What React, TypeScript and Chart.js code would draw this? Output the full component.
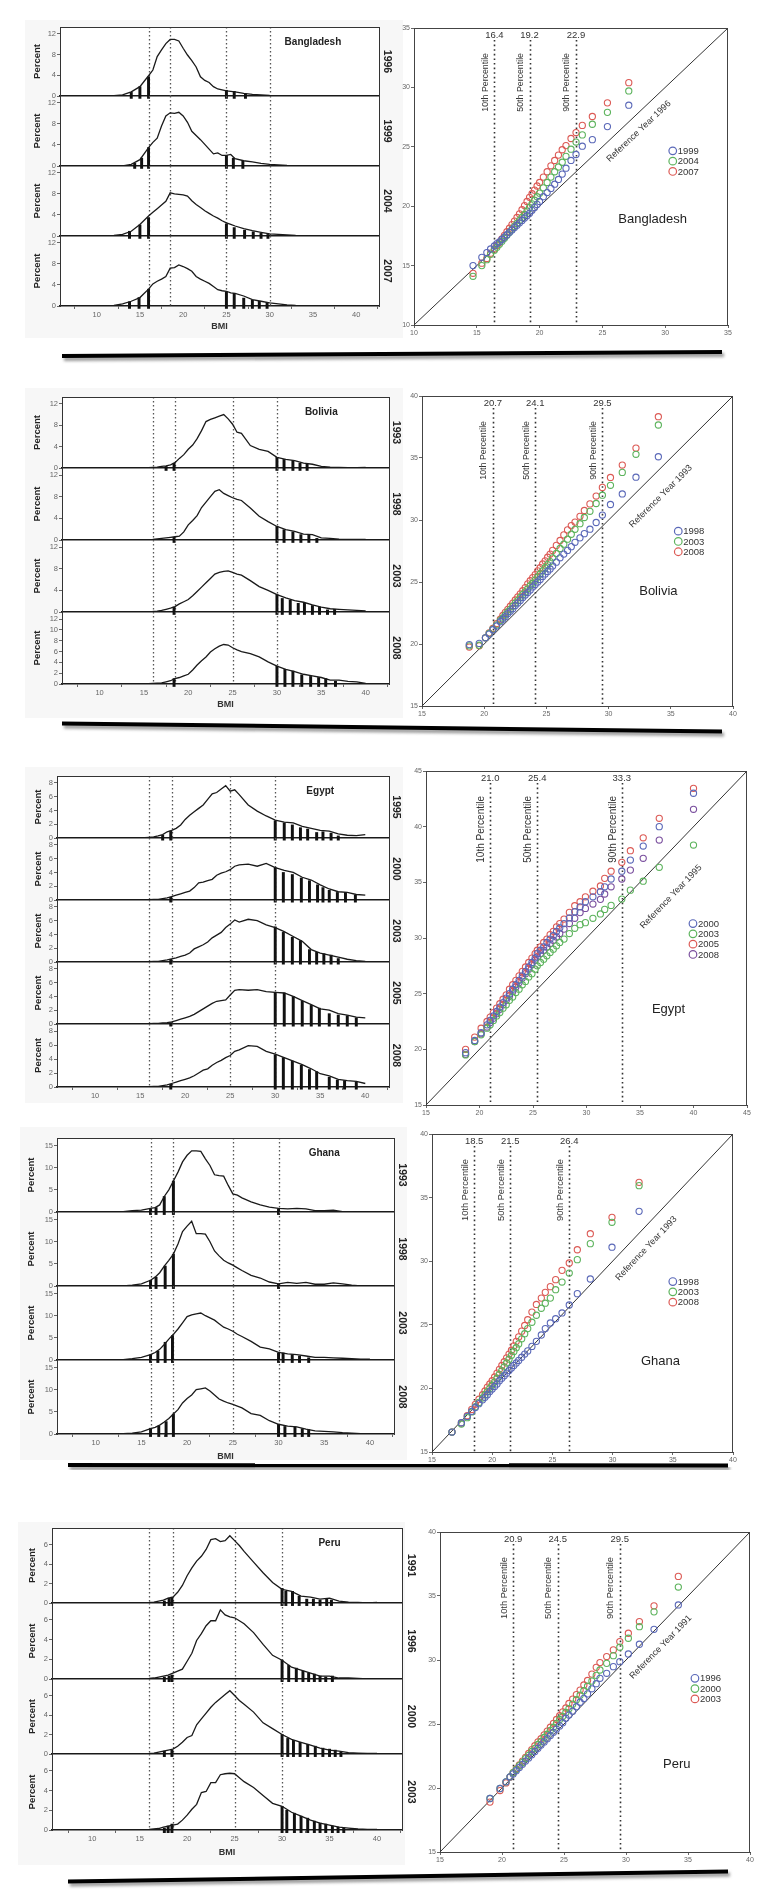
import React, { useEffect, useRef } from 'react';
import { Chart, registerables } from 'chart.js';

Chart.register(...registerables);

const FF = "'Liberation Sans', Arial, Helvetica, sans-serif";
Chart.defaults.font.family = FF;
Chart.defaults.color = '#555';

/* ---------------- shared scales ---------------- */
const BMI_GRID = [10, 11, 12, 13, 14, 15, 16, 16.5, 17, 17.5, 18, 18.5, 19, 19.5, 20, 20.5, 21, 21.5, 22, 22.5, 23, 23.5, 24, 24.5, 25, 25.5, 26, 27, 28, 29, 30, 31, 32, 33, 34, 35, 36, 37, 38, 39, 40];
const BMI_TICKS = [10, 15, 20, 25, 30, 35, 40];
const BMI_MIN = 8.4;
const BMI_MAX = 40;
const BMI_CUTOFFS = [16, 18.5, 25, 30];
const PCT_NAMES = ['10th Percentile', '50th Percentile', '90th Percentile'];
const SERIES_COLORS = ['#5a68b8', '#5cb35c', '#dc5a55', '#7a4f9e'];

/* ---------------- Bangladesh ---------------- */
const BGD_YEARS = ['1996', '1999', '2004', '2007'];
const BGD_Y_TICKS = [0, 2, 4, 6, 8, 10, 12];
const BGD_D1996 = [0, 0, 0.05, 0.2, 0.8, 1.8, 3.9, 5.0, 7.6, 8.9, 10.1, 10.9, 10.9, 10.6, 9.2, 7.9, 6.8, 5.6, 3.7, 3.0, 2.6, 1.8, 1.35, 1.2, 1.0, 0.9, 0.8, 0.5, 0.3, 0.2, 0.1, 0.05, 0.03, 0.02, 0, 0, 0, 0, 0, 0, 0];
const BGD_D1999 = [0, 0, 0, 0, 0.3, 1.2, 3.5, 4.5, 5.3, 7.6, 9.5, 10.1, 10.0, 10.2, 9.5, 8.3, 6.6, 5.8, 5.0, 4.1, 3.2, 2.3, 2.5, 2.0, 2.0, 2.2, 1.4, 1.0, 0.8, 0.5, 0.3, 0.2, 0.1, 0.05, 0, 0, 0, 0, 0, 0, 0];
const BGD_D2004 = [0, 0, 0.1, 0.3, 0.9, 2.2, 3.8, 4.5, 5.2, 5.9, 6.6, 8.2, 8.0, 7.9, 7.8, 7.6, 6.7, 6.0, 5.4, 4.8, 4.3, 3.8, 3.4, 2.9, 2.5, 2.2, 1.9, 1.4, 1.0, 0.7, 0.4, 0.3, 0.2, 0.1, 0.05, 0.03, 0, 0, 0, 0, 0];
const BGD_D2007 = [0, 0, 0.1, 0.4, 0.9, 1.6, 3.2, 4.2, 4.7, 5.1, 5.6, 7.2, 7.3, 7.8, 7.5, 7.1, 6.6, 5.6, 5.1, 4.7, 4.3, 3.7, 3.1, 2.9, 2.8, 2.5, 2.4, 1.9, 1.2, 0.9, 0.6, 0.4, 0.2, 0.1, 0.05, 0.05, 0, 0, 0, 0, 0];
const BGD_B1996_X = [14, 15, 16, 25, 25.9, 27.2];
const BGD_B1996_H = [0.7, 1.8, 3.7, 1.1, 0.9, 0.4];
const BGD_B1999_X = [14.4, 15.2, 16, 25, 25.8, 26.9];
const BGD_B1999_H = [0.5, 1.5, 3.5, 2.0, 1.5, 0.9];
const BGD_B2004_X = [13.8, 15, 16, 25, 25.9, 27.1, 28.1, 29, 29.8];
const BGD_B2004_H = [0.9, 2.1, 3.5, 2.3, 1.6, 1.1, 0.8, 0.5, 0.3];
const BGD_B2007_X = [13.8, 14.9, 16, 25, 25.9, 27, 28, 28.8, 29.7];
const BGD_B2007_H = [0.8, 1.6, 3.2, 2.7, 2.4, 1.5, 1.1, 0.9, 0.7];
const BGD_Q_YEARS = ['1999', '2004', '2007'];
const BGD_Q_REF = [14.7, 15.4, 15.8, 16.1, 16.4, 16.6, 16.8, 17.0, 17.2, 17.4, 17.6, 17.8, 18.0, 18.2, 18.4, 18.6, 18.8, 19.0, 19.2, 19.4, 19.6, 19.8, 20.0, 20.3, 20.6, 20.9, 21.2, 21.5, 21.8, 22.1, 22.5, 22.9, 23.4, 24.2, 25.4, 27.1];
const BGD_Q1999 = [15.0, 15.7, 16.1, 16.4, 16.65, 16.85, 17.0, 17.2, 17.4, 17.6, 17.8, 18.0, 18.2, 18.4, 18.6, 18.8, 19.0, 19.2, 19.4, 19.65, 19.9, 20.15, 20.4, 20.8, 21.15, 21.5, 21.85, 22.25, 22.7, 23.2, 23.85, 24.35, 25.05, 25.6, 26.7, 28.5];
const BGD_Q2004 = [14.1, 15.0, 15.5, 15.95, 16.3, 16.55, 16.8, 17.05, 17.3, 17.55, 17.8, 18.05, 18.3, 18.55, 18.8, 19.05, 19.3, 19.6, 19.9, 20.2, 20.5, 20.8, 21.1, 21.55, 22.0, 22.45, 22.9, 23.3, 23.7, 24.2, 24.8, 25.4, 26.0, 26.9, 27.9, 29.7];
const BGD_Q2007 = [14.35, 15.2, 15.6, 16.05, 16.4, 16.7, 16.95, 17.25, 17.55, 17.85, 18.15, 18.45, 18.75, 19.05, 19.35, 19.7, 20.05, 20.4, 20.75, 21.05, 21.35, 21.7, 22.0, 22.45, 22.9, 23.4, 23.85, 24.3, 24.75, 25.1, 25.7, 26.2, 26.8, 27.55, 28.7, 30.4];
const BGD_PCTS = [16.4, 19.2, 22.9];
const BGD_AXIS = [10, 15, 20, 25, 30, 35];

/* ---------------- Bolivia ---------------- */
const BOL_YEARS = ['1993', '1998', '2003', '2008'];
const BOL_Y_TICKS = [0, 2, 4, 6, 8, 10, 12];
const BOL_D1993 = [0, 0, 0, 0, 0, 0.02, 0.1, 0.15, 0.3, 0.4, 0.6, 1.0, 1.8, 2.5, 3.5, 4.3, 5.5, 7.0, 8.7, 9.1, 9.4, 9.7, 10.0, 9.2, 8.2, 6.7, 6.5, 4.2, 3.5, 3.1, 2.0, 1.6, 1.4, 0.9, 0.7, 0.3, 0.15, 0.1, 0.05, 0.05, 0.1];
const BOL_D1998 = [0, 0, 0, 0, 0, 0.05, 0.1, 0.2, 0.3, 0.4, 0.5, 0.6, 0.7, 1.5, 2.8, 3.6, 4.5, 6.0, 7.0, 8.0, 9.0, 9.3, 8.6, 8.2, 7.8, 7.5, 7.3, 5.9, 4.4, 3.4, 2.5, 1.9, 1.6, 1.1, 1.0, 0.4, 0.3, 0.15, 0.1, 0.1, 0.1];
const BOL_D2003 = [0, 0, 0, 0, 0, 0.05, 0.1, 0.15, 0.3, 0.5, 0.7, 1.0, 1.5, 1.9, 2.3, 3.0, 3.8, 4.6, 5.4, 6.2, 7.0, 7.3, 7.5, 7.6, 7.3, 7.0, 6.8, 5.8, 4.7, 4.0, 3.2, 2.6, 2.1, 1.8, 1.3, 0.9, 0.6, 0.5, 0.4, 0.3, 0.2];
const BOL_D2008 = [0, 0, 0, 0, 0, 0.02, 0.1, 0.15, 0.2, 0.4, 0.6, 1.0, 1.2, 1.5, 1.8, 2.6, 3.5, 4.3, 5.0, 5.9, 6.5, 7.0, 7.3, 7.2, 6.7, 6.3, 6.0, 5.6, 5.0, 4.1, 3.3, 2.7, 2.3, 1.8, 1.5, 1.2, 0.7, 0.7, 0.5, 0.4, 0.1];
const BOL_B1993_X = [17.5, 18.4, 30, 30.8, 31.8, 32.6, 33.4];
const BOL_B1993_H = [0.3, 0.9, 2.0, 1.6, 1.4, 0.9, 0.7];
const BOL_B1998_X = [18.4, 30, 30.8, 31.8, 32.7, 33.6, 34.5];
const BOL_B1998_H = [0.5, 2.5, 1.9, 1.5, 1.0, 1.0, 0.3];
const BOL_B2003_X = [18.4, 30, 30.6, 31.5, 32.4, 33.1, 34, 34.8, 35.7, 36.5];
const BOL_B2003_H = [0.9, 3.2, 2.5, 2.2, 1.6, 1.6, 1.2, 0.9, 0.4, 0.5];
const BOL_B2008_X = [18.4, 30, 30.9, 31.8, 32.8, 33.8, 34.7, 35.5, 36.6];
const BOL_B2008_H = [1.0, 3.3, 2.7, 2.4, 1.7, 1.4, 1.2, 1.0, 0.5];
const BOL_Q_YEARS = ['1998', '2003', '2008'];
const BOL_Q_REF = [18.8, 19.6, 20.1, 20.4, 20.7, 21.0, 21.3, 21.5, 21.7, 21.9, 22.1, 22.3, 22.5, 22.7, 22.9, 23.1, 23.3, 23.5, 23.7, 23.9, 24.1, 24.3, 24.5, 24.7, 24.9, 25.1, 25.3, 25.5, 25.8, 26.1, 26.4, 26.7, 27.0, 27.3, 27.7, 28.05, 28.5, 29.0, 29.5, 30.15, 31.1, 32.2, 34.0];
const BOL_Q1998 = [19.95, 20.05, 20.5, 20.8, 21.15, 21.45, 21.8, 22.0, 22.2, 22.45, 22.65, 22.85, 23.1, 23.3, 23.5, 23.75, 23.95, 24.15, 24.35, 24.6, 24.8, 25.0, 25.2, 25.45, 25.65, 25.85, 26.05, 26.3, 26.6, 26.95, 27.25, 27.55, 27.85, 28.2, 28.56, 28.9, 29.26, 29.8, 30.4, 31.25, 32.1, 33.45, 35.1];
const BOL_Q2003 = [19.85, 19.9, 20.5, 20.85, 21.2, 21.55, 21.9, 22.1, 22.35, 22.6, 22.8, 23.05, 23.3, 23.5, 23.75, 24.0, 24.2, 24.45, 24.7, 24.9, 25.15, 25.4, 25.65, 25.9, 26.15, 26.4, 26.65, 26.95, 27.3, 27.7, 28.05, 28.45, 28.85, 29.25, 29.7, 30.2, 30.7, 31.33, 32.0, 32.8, 33.84, 35.3, 37.66];
const BOL_Q2008 = [19.75, 19.85, 20.5, 20.9, 21.25, 21.65, 22.0, 22.3, 22.55, 22.8, 23.05, 23.3, 23.55, 23.8, 24.05, 24.3, 24.55, 24.85, 25.1, 25.35, 25.6, 25.9, 26.15, 26.45, 26.7, 27.0, 27.25, 27.55, 27.95, 28.35, 28.8, 29.2, 29.55, 29.83, 30.3, 30.77, 31.3, 31.93, 32.63, 33.43, 34.43, 35.8, 38.33];
const BOL_PCTS = [20.7, 24.1, 29.5];
const BOL_AXIS = [15, 20, 25, 30, 35, 40];

/* ---------------- Egypt ---------------- */
const EGY_YEARS = ['1995', '2000', '2003', '2005', '2008'];
const EGY_Y_TICKS = [0, 2, 4, 6, 8];
const EGY_D1995 = [0, 0, 0, 0, 0, 0.02, 0.1, 0.15, 0.3, 0.5, 0.9, 1.1, 1.4, 1.9, 2.7, 3.3, 3.8, 4.3, 4.8, 5.6, 6.4, 6.6, 7.1, 7.6, 6.8, 7.0, 6.3, 4.8, 3.9, 3.2, 2.6, 2.3, 2.2, 1.7, 1.4, 1.1, 1.0, 0.6, 0.4, 0.35, 0.5];
const EGY_D2000 = [0, 0, 0, 0, 0, 0.02, 0.05, 0.07, 0.1, 0.2, 0.3, 0.5, 0.7, 0.9, 1.1, 1.3, 1.8, 2.5, 2.6, 2.8, 3.0, 3.6, 3.9, 4.1, 4.4, 4.9, 5.1, 5.2, 4.9, 5.3, 4.7, 4.3, 4.0, 3.3, 2.9, 2.2, 1.6, 1.2, 1.1, 0.8, 0.7];
const EGY_D2003 = [0, 0, 0, 0, 0, 0.02, 0.05, 0.07, 0.1, 0.2, 0.3, 0.45, 0.6, 0.8, 1.0, 1.3, 1.9, 2.2, 2.5, 2.9, 3.5, 3.9, 4.3, 5.0, 5.5, 6.1, 5.8, 6.2, 6.0, 5.4, 5.0, 4.4, 3.7, 3.0, 1.8, 1.3, 1.0, 0.7, 0.4, 0.2, 0.1];
const EGY_D2005 = [0, 0, 0, 0, 0, 0.01, 0.05, 0.07, 0.1, 0.15, 0.2, 0.3, 0.5, 0.7, 0.9, 1.1, 1.4, 1.8, 2.2, 2.6, 3.0, 3.3, 3.4, 3.5, 4.2, 4.9, 5.0, 4.9, 5.0, 4.7, 4.6, 4.5, 4.0, 3.4, 2.8, 2.2, 2.0, 1.5, 1.3, 1.0, 0.9];
const EGY_D2008 = [0, 0, 0, 0, 0, 0.01, 0.05, 0.07, 0.1, 0.2, 0.3, 0.5, 0.7, 0.9, 1.1, 1.3, 1.6, 2.0, 2.4, 2.6, 3.1, 3.5, 3.8, 4.2, 4.5, 5.1, 5.3, 5.9, 5.8, 5.1, 4.7, 4.2, 3.7, 3.2, 2.6, 1.9, 1.6, 1.1, 0.9, 0.8, 0.5];
const EGY_B1995_X = [17.5, 18.4, 30, 31, 31.9, 32.8, 33.6, 34.6, 35.3, 36.2, 37];
const EGY_B1995_H = [0.4, 1.0, 2.5, 2.2, 1.9, 1.5, 1.3, 0.8, 0.9, 0.7, 0.3];
const EGY_B2000_X = [18.4, 30, 30.9, 31.9, 32.9, 33.8, 34.7, 35.3, 36, 36.9, 37.8, 38.9];
const EGY_B2000_H = [0.4, 4.7, 4.0, 3.7, 3.2, 2.8, 2.2, 1.8, 1.4, 1.1, 1.1, 0.7];
const EGY_B2003_X = [18.4, 30, 30.9, 31.9, 32.8, 33.8, 34.6, 35.4, 36.2, 37];
const EGY_B2003_H = [0.4, 5.1, 4.3, 3.6, 3.1, 1.8, 1.4, 1.2, 1.0, 0.5];
const EGY_B2005_X = [18.4, 30, 31, 32, 33, 34, 34.9, 36, 37, 38, 39];
const EGY_B2005_H = [0.2, 4.6, 4.5, 4.0, 3.3, 2.7, 2.3, 1.5, 1.3, 1.2, 0.9];
const EGY_B2008_X = [18.4, 30, 30.9, 31.9, 32.9, 33.8, 34.6, 36, 36.9, 37.7, 39];
const EGY_B2008_H = [0.4, 4.6, 4.2, 3.7, 3.1, 2.5, 2.2, 1.4, 1.0, 0.9, 0.7];
const EGY_Q_YEARS = ['2000', '2003', '2005', '2008'];
const EGY_Q_REF = [18.7, 19.55, 20.15, 20.7, 21.0, 21.3, 21.6, 21.9, 22.2, 22.5, 22.8, 23.1, 23.4, 23.7, 24.0, 24.3, 24.6, 24.9, 25.2, 25.4, 25.7, 26.0, 26.3, 26.6, 26.9, 27.2, 27.5, 27.9, 28.4, 28.9, 29.4, 29.9, 30.6, 31.3, 31.7, 32.3, 33.3, 34.1, 35.3, 36.8, 40.0];
const EGY_Q2000 = [19.7, 20.8, 21.5, 22.2, 22.6, 23.0, 23.4, 23.8, 24.2, 24.6, 25.0, 25.4, 25.8, 26.2, 26.6, 27.0, 27.4, 27.8, 28.2, 28.6, 28.9, 29.2, 29.6, 29.9, 30.2, 30.6, 30.9, 31.3, 31.8, 32.36, 32.8, 33.26, 33.7, 34.16, 34.6, 35.3, 36.0, 37.0, 38.26, 40.0, 43.0];
const EGY_Q2003 = [19.5, 20.7, 21.3, 21.9, 22.2, 22.6, 23.0, 23.3, 23.7, 24.0, 24.4, 24.7, 25.1, 25.4, 25.8, 26.1, 26.5, 26.8, 27.2, 27.5, 27.8, 28.1, 28.4, 28.7, 29.0, 29.3, 29.6, 29.9, 30.4, 30.87, 31.2, 31.38, 31.77, 32.16, 32.57, 32.93, 33.5, 34.3, 35.1, 36.35, 38.35];
const EGY_Q2005 = [20.0, 21.1, 21.9, 22.5, 22.9, 23.3, 23.7, 24.1, 24.5, 24.9, 25.4, 25.8, 26.2, 26.6, 27.0, 27.4, 27.8, 28.2, 28.6, 28.9, 29.2, 29.6, 29.9, 30.3, 30.6, 31.0, 31.3, 31.7, 32.3, 32.9, 33.26, 33.7, 34.2, 34.67, 35.36, 36.0, 36.8, 37.84, 39.0, 40.75, 43.44];
const EGY_Q2008 = [19.55, 20.7, 21.4, 22.0, 22.4, 22.8, 23.2, 23.6, 24.0, 24.4, 24.8, 25.2, 25.6, 26.0, 26.4, 26.8, 27.2, 27.6, 28.0, 28.3, 28.6, 28.9, 29.2, 29.5, 29.8, 30.1, 30.4, 30.8, 31.3, 31.77, 32.28, 32.66, 33.05, 33.47, 33.95, 34.6, 35.3, 36.1, 37.16, 38.8, 41.56];
const EGY_PCTS = [21.0, 25.4, 33.3];
const EGY_AXIS = [15, 20, 25, 30, 35, 40, 45];

/* ---------------- Ghana ---------------- */
const GHA_YEARS = ['1993', '1998', '2003', '2008'];
const GHA_Y_TICKS = [0, 5, 10, 15];
const GHA_D1993 = [0, 0, 0.05, 0.1, 0.3, 0.4, 0.8, 1.0, 1.6, 3.5, 5.0, 7.0, 9.0, 11.3, 12.8, 13.8, 13.8, 13.7, 12.0, 10.5, 8.4, 8.2, 8.1, 6.0, 4.1, 3.8, 3.2, 2.3, 1.6, 1.1, 0.8, 0.7, 0.8, 0.7, 0.3, 0.3, 0.4, 0.1, 0.1, 0.05, 0.05];
const GHA_D1998 = [0, 0, 0, 0.05, 0.2, 0.5, 1.3, 2.0, 3.0, 4.5, 5.8, 7.2, 9.5, 12.3, 13.5, 14.6, 11.8, 11.8, 11.7, 10.0, 7.9, 6.8, 5.8, 5.2, 4.7, 4.1, 3.5, 2.4, 1.8, 0.9, 0.5, 0.8, 0.6, 0.8, 0.4, 0.4, 0.7, 0.5, 0.2, 0.05, 0];
const GHA_D2003 = [0, 0, 0, 0.1, 0.3, 0.6, 1.2, 1.7, 2.4, 3.5, 4.7, 5.8, 7.0, 8.4, 9.8, 10.2, 10.4, 10.6, 10.0, 9.5, 9.0, 8.2, 7.4, 7.0, 6.5, 5.8, 5.3, 4.2, 2.9, 2.5, 1.7, 1.4, 1.2, 0.9, 0.6, 0.6, 0.5, 0.4, 0.3, 0.2, 0.2];
const GHA_D2008 = [0, 0, 0.02, 0.1, 0.2, 0.5, 1.2, 1.5, 2.0, 2.7, 3.5, 4.5, 5.5, 7.0, 8.0, 8.8, 10.0, 10.2, 10.4, 9.7, 8.8, 7.9, 7.4, 7.0, 6.7, 6.3, 5.9, 4.6, 4.2, 3.0, 2.2, 1.8, 1.6, 1.1, 0.7, 0.6, 0.5, 0.3, 0.2, 0.1, 0.1];
const GHA_B1993_X = [16, 16.6, 17.5, 18.5, 30];
const GHA_B1993_H = [0.7, 1.0, 3.5, 7.0, 0.7];
const GHA_B1998_X = [16, 16.6, 17.6, 18.5, 30];
const GHA_B1998_H = [1.3, 2.0, 4.5, 7.2, 0.5];
const GHA_B2003_X = [16, 16.8, 17.6, 18.4, 30, 30.5, 31.5, 32.3, 33.3];
const GHA_B2003_H = [1.2, 2.0, 4.0, 5.5, 1.6, 1.6, 1.2, 0.9, 0.5];
const GHA_B2008_X = [16, 16.9, 17.7, 18.5, 30, 30.7, 31.8, 32.6, 33.3];
const GHA_B2008_H = [1.3, 1.8, 2.8, 4.5, 2.2, 1.7, 1.6, 1.2, 1.0];
const GHA_Q_YEARS = ['1998', '2003', '2008'];
const GHA_Q_REF = [16.66, 17.44, 17.93, 18.3, 18.6, 18.9, 19.2, 19.4, 19.6, 19.8, 20.0, 20.2, 20.4, 20.6, 20.8, 21.0, 21.2, 21.4, 21.6, 21.8, 22.0, 22.2, 22.45, 22.7, 22.95, 23.3, 23.67, 24.08, 24.41, 24.83, 25.27, 25.8, 26.4, 27.07, 28.15, 29.95, 32.2];
const GHA_Q1998 = [16.57, 17.3, 17.8, 18.2, 18.5, 18.8, 19.1, 19.3, 19.5, 19.75, 19.95, 20.15, 20.35, 20.6, 20.8, 21.0, 21.2, 21.4, 21.6, 21.8, 22.0, 22.2, 22.45, 22.7, 22.95, 23.3, 23.7, 24.2, 24.7, 25.14, 25.48, 25.93, 26.56, 27.45, 28.6, 31.1, 33.92];
const GHA_Q2003 = [16.57, 17.2, 17.7, 18.15, 18.55, 18.9, 19.25, 19.5, 19.75, 20.0, 20.25, 20.5, 20.8, 21.1, 21.4, 21.7, 22.0, 22.3, 22.6, 22.9, 23.2, 23.5, 23.9, 24.3, 24.7, 25.2, 25.75, 26.3, 26.7, 27.1, 27.76, 28.36, 29.07, 30.12, 31.38, 33.06, 35.94];
const GHA_Q2008 = [16.57, 17.28, 17.85, 18.35, 18.75, 19.15, 19.5, 19.8, 20.1, 20.35, 20.6, 20.9, 21.2, 21.5, 21.8, 22.1, 22.4, 22.7, 23.0, 23.35, 23.7, 24.05, 24.5, 24.95, 25.4, 26.0, 26.6, 27.1, 27.55, 28.0, 28.55, 29.28, 29.86, 30.9, 32.16, 33.45, 36.2];
const GHA_PCTS = [18.5, 21.5, 26.4];
const GHA_AXIS = [15, 20, 25, 30, 35, 40];

/* ---------------- Peru ---------------- */
const PER_YEARS = ['1991', '1996', '2000', '2003'];
const PER_Y_TICKS = [0, 2, 4, 6];
const PER_D1991 = [0, 0, 0, 0, 0, 0.02, 0.05, 0.1, 0.2, 0.3, 0.5, 0.6, 1.1, 1.8, 2.8, 3.6, 4.3, 4.8, 5.5, 6.5, 6.6, 6.3, 6.4, 6.9, 6.4, 5.9, 5.3, 4.2, 3.1, 2.1, 1.4, 1.2, 0.7, 0.6, 0.4, 0.5, 0.2, 0.1, 0.05, 0.02, 0.05];
const PER_D1996 = [0, 0, 0, 0, 0, 0.02, 0.05, 0.1, 0.2, 0.3, 0.4, 0.6, 0.8, 1.0, 1.8, 2.6, 3.9, 4.6, 5.4, 5.9, 5.9, 7.0, 6.5, 6.3, 6.2, 5.9, 5.6, 4.7, 3.5, 2.4, 1.9, 1.2, 0.9, 0.6, 0.3, 0.3, 0.1, 0.1, 0.05, 0.02, 0];
const PER_D2000 = [0, 0, 0, 0, 0, 0.02, 0.05, 0.1, 0.2, 0.3, 0.4, 0.5, 0.8, 1.2, 1.7, 1.9, 3.0, 3.6, 4.2, 4.8, 5.3, 5.7, 6.1, 6.5, 6.0, 5.5, 5.1, 4.3, 3.2, 2.6, 2.0, 1.5, 1.2, 0.9, 0.6, 0.4, 0.3, 0.15, 0.1, 0.05, 0.05];
const PER_D2003 = [0, 0, 0, 0, 0, 0.02, 0.05, 0.1, 0.15, 0.3, 0.4, 0.5, 0.6, 1.0, 1.5, 2.1, 2.6, 3.8, 3.9, 4.8, 4.8, 5.6, 5.7, 5.75, 5.7, 5.3, 4.9, 4.3, 3.5, 2.7, 2.4, 1.8, 1.4, 1.0, 0.7, 0.5, 0.3, 0.2, 0.1, 0.05, 0.05];
const PER_B1991_X = [17.6, 18.1, 18.4, 30, 30.4, 31.1, 31.8, 32.6, 33.3, 34, 34.7, 35.2];
const PER_B1991_H = [0.2, 0.5, 0.6, 1.5, 1.2, 1.2, 0.7, 0.4, 0.4, 0.3, 0.4, 0.3];
const PER_B1996_X = [17.6, 18.1, 18.4, 30, 30.7, 31.5, 32.2, 32.8, 33.4, 34, 34.6, 35.3];
const PER_B1996_H = [0.2, 0.3, 0.4, 1.9, 1.4, 1.1, 0.8, 0.6, 0.5, 0.3, 0.2, 0.3];
const PER_B2000_X = [17.6, 18.4, 30, 30.6, 31.2, 31.9, 32.7, 33.5, 34.3, 35, 35.6, 36.2];
const PER_B2000_H = [0.3, 0.4, 2.0, 1.6, 1.4, 1.2, 1.0, 0.8, 0.6, 0.5, 0.4, 0.2];
const PER_B2003_X = [17.6, 18, 18.4, 30, 30.5, 31.3, 32, 32.7, 33.4, 34, 34.6, 35.3, 35.9, 36.5];
const PER_B2003_H = [0.2, 0.4, 0.6, 2.4, 2.0, 1.7, 1.4, 1.2, 0.9, 0.7, 0.6, 0.4, 0.3, 0.2];
const PER_Q_YEARS = ['1996', '2000', '2003'];
const PER_Q_REF = [19.03, 19.84, 20.32, 20.65, 20.9, 21.15, 21.4, 21.65, 21.9, 22.15, 22.4, 22.65, 22.9, 23.15, 23.4, 23.65, 23.9, 24.15, 24.4, 24.65, 24.9, 25.15, 25.4, 25.7, 26.0, 26.3, 26.6, 26.9, 27.25, 27.6, 27.9, 28.44, 28.98, 29.5, 30.19, 31.08, 32.26, 34.22];
const PER_Q1996 = [19.18, 19.96, 20.48, 20.87, 21.1, 21.35, 21.6, 21.85, 22.1, 22.35, 22.6, 22.85, 23.1, 23.35, 23.6, 23.85, 24.1, 24.35, 24.6, 24.85, 25.1, 25.45, 25.7, 26.0, 26.35, 26.7, 27.0, 27.35, 27.75, 28.15, 28.57, 28.96, 29.48, 29.87, 30.47, 31.23, 32.4, 34.3];
const PER_Q2000 = [19.18, 19.96, 20.48, 20.87, 21.2, 21.45, 21.75, 22.0, 22.3, 22.55, 22.85, 23.1, 23.4, 23.65, 23.95, 24.2, 24.5, 24.75, 25.05, 25.35, 25.6, 25.9, 26.2, 26.55, 26.9, 27.25, 27.6, 27.95, 28.35, 28.8, 29.22, 29.74, 30.34, 31.0, 31.7, 32.6, 33.76, 35.7];
const PER_Q2003 = [18.9, 19.8, 20.4, 20.85, 21.2, 21.5, 21.8, 22.1, 22.4, 22.7, 23.0, 23.3, 23.6, 23.85, 24.15, 24.45, 24.75, 25.05, 25.35, 25.65, 25.95, 26.25, 26.6, 26.95, 27.3, 27.65, 28.05, 28.4, 28.9, 29.43, 29.8, 30.27, 30.79, 31.44, 32.09, 33.0, 34.23, 36.53];
const PER_PCTS = [20.9, 24.5, 29.5];
const PER_AXIS = [15, 20, 25, 30, 35, 40];

/* ---------------- page layout (pixels) ---------------- */
const BGD_LAYOUT = { plotL: 60, plotR: 379, bounds: [27, 96, 166, 236, 306], percentX: 38, yearX: 387, bmiY: 327, bg: [25, 20, 403, 338], scatter: [414, 28, 728, 325] };
const BOL_LAYOUT = { plotL: 62, plotR: 389, bounds: [397, 468, 540, 612, 684], percentX: 38, yearX: 396, bmiY: 705, bg: [25, 388, 403, 718], scatter: [422, 396, 733, 706] };
const EGY_LAYOUT = { plotL: 57, plotR: 389, bounds: [776, 838, 900, 962, 1024, 1087], percentX: 39, yearX: 396, bmiY: null, bg: [25, 767, 403, 1103], scatter: [426, 771, 747, 1105] };
const GHA_LAYOUT = { plotL: 57, plotR: 394, bounds: [1138, 1212, 1286, 1360, 1434], percentX: 32, yearX: 402, bmiY: 1457, bg: [20, 1127, 407, 1460], scatter: [432, 1134, 733, 1452] };
const PER_LAYOUT = { plotL: 52, plotR: 402, bounds: [1528, 1603, 1679, 1754, 1830], percentX: 33, yearX: 411, bmiY: 1853, bg: [18, 1522, 405, 1865], scatter: [440, 1532, 750, 1852] };
const RULES = [
  [62, 356, 722, 352],
  [62, 723.5, 722, 731.5],
  [68, 1465, 728, 1465.5],
  [68, 1881.5, 728, 1871.5],
];

const COUNTRIES: any[] = [
  {
    name: 'Bangladesh', years: BGD_YEARS, ymax: 13.3, yTicks: BGD_Y_TICKS, layout: BGD_LAYOUT,
    dens: [BGD_D1996, BGD_D1999, BGD_D2004, BGD_D2007],
    barX: [BGD_B1996_X, BGD_B1999_X, BGD_B2004_X, BGD_B2007_X],
    barH: [BGD_B1996_H, BGD_B1999_H, BGD_B2004_H, BGD_B2007_H],
    q: { years: BGD_Q_YEARS, ref: BGD_Q_REF, vals: [BGD_Q1999, BGD_Q2004, BGD_Q2007], pcts: BGD_PCTS, axis: BGD_AXIS, refYear: '1996', pctFont: 8.8, refPos: [27.9, 26.3], legendPos: [30.6, 24.66], namePos: [29.0, 18.85] },
  },
  {
    name: 'Bolivia', years: BOL_YEARS, ymax: 13.3, yTicks: BOL_Y_TICKS, layout: BOL_LAYOUT,
    dens: [BOL_D1993, BOL_D1998, BOL_D2003, BOL_D2008],
    barX: [BOL_B1993_X, BOL_B1998_X, BOL_B2003_X, BOL_B2008_X],
    barH: [BOL_B1993_H, BOL_B1998_H, BOL_B2003_H, BOL_B2008_H],
    q: { years: BOL_Q_YEARS, ref: BOL_Q_REF, vals: [BOL_Q1998, BOL_Q2003, BOL_Q2008], pcts: BOL_PCTS, axis: BOL_AXIS, refYear: '1993', pctFont: 8.8, refPos: [34.2, 31.9], legendPos: [35.6, 29.1], namePos: [34.0, 24.2] },
  },
  {
    name: 'Egypt', years: EGY_YEARS, ymax: 9.0, yTicks: EGY_Y_TICKS, layout: EGY_LAYOUT,
    dens: [EGY_D1995, EGY_D2000, EGY_D2003, EGY_D2005, EGY_D2008],
    barX: [EGY_B1995_X, EGY_B2000_X, EGY_B2003_X, EGY_B2005_X, EGY_B2008_X],
    barH: [EGY_B1995_H, EGY_B2000_H, EGY_B2003_H, EGY_B2005_H, EGY_B2008_H],
    q: { years: EGY_Q_YEARS, ref: EGY_Q_REF, vals: [EGY_Q2000, EGY_Q2003, EGY_Q2005, EGY_Q2008], pcts: EGY_PCTS, axis: EGY_AXIS, refYear: '1995', pctFont: 10, refPos: [37.9, 33.7], legendPos: [39.95, 31.3], namePos: [37.67, 23.6] },
  },
  {
    name: 'Ghana', years: GHA_YEARS, ymax: 16.7, yTicks: GHA_Y_TICKS, layout: GHA_LAYOUT,
    dens: [GHA_D1993, GHA_D1998, GHA_D2003, GHA_D2008],
    barX: [GHA_B1993_X, GHA_B1998_X, GHA_B2003_X, GHA_B2008_X],
    barH: [GHA_B1993_H, GHA_B1998_H, GHA_B2003_H, GHA_B2008_H],
    q: { years: GHA_Q_YEARS, ref: GHA_Q_REF, vals: [GHA_Q1998, GHA_Q2003, GHA_Q2008], pcts: GHA_PCTS, axis: GHA_AXIS, refYear: '1993', pctFont: 9.3, refPos: [32.8, 31.0], legendPos: [35.0, 28.4], namePos: [33.97, 22.1] },
  },
  {
    name: 'Peru', years: PER_YEARS, ymax: 7.7, yTicks: PER_Y_TICKS, layout: PER_LAYOUT,
    dens: [PER_D1991, PER_D1996, PER_D2000, PER_D2003],
    barX: [PER_B1991_X, PER_B1996_X, PER_B2000_X, PER_B2003_X],
    barH: [PER_B1991_H, PER_B1996_H, PER_B2000_H, PER_B2003_H],
    q: { years: PER_Q_YEARS, ref: PER_Q_REF, vals: [PER_Q1996, PER_Q2000, PER_Q2003], pcts: PER_PCTS, axis: PER_AXIS, refYear: '1991', pctFont: 9.3, refPos: [32.8, 31.0], legendPos: [35.56, 28.57], namePos: [34.1, 21.84] },
  },
];

/* ---------------- chart builders ---------------- */
type Margin = { l: number; t: number; r: number; b: number };

function densityDeco(c: any, isTop: boolean) {
  return {
    id: 'densityDeco',
    beforeDatasetsDraw(chart: any) {
      const { ctx, chartArea: a, scales } = chart;
      ctx.save();
      ctx.strokeStyle = '#555';
      ctx.lineWidth = 1.3;
      ctx.setLineDash([1.5, 2.5]);
      BMI_CUTOFFS.forEach((v) => {
        const px = Math.round(scales.x.getPixelForValue(v)) + 0.5;
        ctx.beginPath();
        ctx.moveTo(px, a.top);
        ctx.lineTo(px, a.bottom);
        ctx.stroke();
      });
      ctx.restore();
    },
    afterDraw(chart: any) {
      if (!isTop) return;
      const { ctx, chartArea: a, scales } = chart;
      ctx.save();
      ctx.strokeStyle = '#333';
      ctx.lineWidth = 1;
      ctx.beginPath();
      ctx.moveTo(a.left, a.top + 0.5);
      ctx.lineTo(a.right, a.top + 0.5);
      ctx.stroke();
      ctx.fillStyle = '#222';
      ctx.font = `bold 10px ${FF}`;
      ctx.textAlign = 'center';
      ctx.textBaseline = 'middle';
      ctx.fillText(c.name, scales.x.getPixelForValue(35), a.top + 15);
      ctx.restore();
    },
  };
}

function densityConfig(c: any, i: number, m: Margin, bmiTitle: boolean) {
  const n = c.years.length;
  const isTop = i === 0;
  const isBottom = i === n - 1;
  const vals = c.dens[i];
  const dip = -c.ymax * 0.035;
  return {
    type: 'line',
    data: {
      datasets: [
        {
          type: 'line', xAxisID: 'x', yAxisID: 'y',
          data: BMI_GRID.map((x, k) => ({ x, y: vals[k] })),
          borderColor: '#1a1a1a', borderWidth: 1.3, pointRadius: 0, tension: 0, fill: false, order: 1,
        },
        {
          type: 'bar', xAxisID: 'x', yAxisID: 'y',
          data: c.barX[i].map((x: number, k: number) => ({ x, y: [dip, c.barH[i][k]] })),
          backgroundColor: '#111', borderWidth: 0, barThickness: 2.3, clip: false, order: 2,
        },
      ],
    },
    options: {
      responsive: false, animation: false, devicePixelRatio: 1, events: [],
      layout: { padding: { top: m.t, right: 0, bottom: 0, left: 0 } },
      plugins: { legend: { display: false }, tooltip: { enabled: false } },
      scales: {
        x: {
          type: 'linear', min: BMI_MIN, max: BMI_MAX,
          afterBuildTicks: (s: any) => { s.ticks = BMI_TICKS.map((v) => ({ value: v })); },
          afterFit: (s: any) => { s.height = m.b; s.paddingLeft = 0; s.paddingRight = 0; },
          ticks: { display: isBottom, font: { size: 7.5, family: FF }, color: '#666', padding: 1, maxRotation: 0, autoSkip: false },
          grid: { display: true, drawOnChartArea: false, drawTicks: isBottom, tickLength: 3, color: '#666' },
          border: { display: true, color: '#1a1a1a', width: 1.6 },
          title: { display: isBottom && bmiTitle, text: 'BMI', font: { size: 9, weight: 'bold', family: FF }, color: '#333', padding: 0 },
        },
        y: {
          type: 'linear', position: 'left', min: 0, max: c.ymax,
          afterBuildTicks: (s: any) => { s.ticks = c.yTicks.map((v: number) => ({ value: v })); },
          afterFit: (s: any) => { s.width = m.l; s.paddingTop = 0; s.paddingBottom = 0; },
          ticks: { font: { size: 7.5, family: FF }, color: '#666', padding: 1 },
          grid: { display: true, drawOnChartArea: false, tickLength: 3, color: '#666' },
          border: { display: true, color: '#333', width: 1 },
          title: { display: true, text: 'Percent', font: { size: 9.5, weight: 'bold', family: FF }, color: '#222', padding: 0 },
        },
        yr: {
          type: 'linear', position: 'right', display: true,
          afterFit: (s: any) => { s.width = m.r; s.paddingTop = 0; s.paddingBottom = 0; },
          ticks: { display: false },
          grid: { display: false, drawTicks: false },
          border: { display: true, color: '#333', width: 1 },
          title: { display: true, text: c.years[i], font: { size: 10.5, weight: 'bold', family: FF }, color: '#222', padding: 0 },
        },
      },
    },
    plugins: [densityDeco(c, isTop)],
  };
}

function scatterDeco(q: any, name: string) {
  return {
    id: 'scatterDeco',
    beforeDatasetsDraw(chart: any) {
      const { ctx, chartArea: a, scales } = chart;
      ctx.save();
      ctx.strokeStyle = '#333';
      ctx.lineWidth = 1.6;
      ctx.setLineDash([1.6, 3]);
      q.pcts.forEach((v: number) => {
        const px = Math.round(scales.x.getPixelForValue(v)) + 0.5;
        ctx.beginPath();
        ctx.moveTo(px, a.top + 12);
        ctx.lineTo(px, a.bottom);
        ctx.stroke();
      });
      ctx.restore();
    },
    afterDraw(chart: any) {
      const { ctx, chartArea: a, scales } = chart;
      const x = scales.x, y = scales.y;
      ctx.save();
      ctx.strokeStyle = '#444';
      ctx.lineWidth = 1;
      ctx.beginPath();
      ctx.moveTo(a.left, a.top + 0.5);
      ctx.lineTo(a.right - 0.5, a.top + 0.5);
      ctx.lineTo(a.right - 0.5, a.bottom);
      ctx.stroke();

      ctx.fillStyle = '#333';
      ctx.textBaseline = 'middle';
      q.pcts.forEach((v: number, k: number) => {
        const px = x.getPixelForValue(v);
        ctx.font = `9.5px ${FF}`;
        ctx.textAlign = 'center';
        ctx.fillText(v.toFixed(1), px, a.top + 7);
        ctx.save();
        ctx.translate(px - 9, a.top + 25);
        ctx.rotate(-Math.PI / 2);
        ctx.font = `${q.pctFont}px ${FF}`;
        ctx.textAlign = 'right';
        ctx.fillText(PCT_NAMES[k], 0, 0);
        ctx.restore();
      });

      // reference-year label along the diagonal
      ctx.save();
      ctx.translate(x.getPixelForValue(q.refPos[0]), y.getPixelForValue(q.refPos[1]));
      ctx.rotate(-Math.atan2(a.bottom - a.top, a.right - a.left));
      ctx.font = `9px ${FF}`;
      ctx.textAlign = 'center';
      ctx.fillStyle = '#333';
      ctx.fillText('Reference Year ' + q.refYear, 0, 0);
      ctx.restore();

      // legend
      const lx = x.getPixelForValue(q.legendPos[0]);
      const ly = y.getPixelForValue(q.legendPos[1]);
      q.years.forEach((yr: string, k: number) => {
        const cy = ly + k * 10.3;
        ctx.strokeStyle = SERIES_COLORS[k];
        ctx.lineWidth = 1.2;
        ctx.beginPath();
        ctx.arc(lx, cy, 3.8, 0, Math.PI * 2);
        ctx.stroke();
        ctx.fillStyle = '#333';
        ctx.font = `9.5px ${FF}`;
        ctx.textAlign = 'left';
        ctx.fillText(yr, lx + 5, cy + 0.5);
      });

      // country name
      ctx.fillStyle = '#222';
      ctx.font = `13px ${FF}`;
      ctx.textAlign = 'center';
      ctx.fillText(name, x.getPixelForValue(q.namePos[0]), y.getPixelForValue(q.namePos[1]));
      ctx.restore();
    },
  };
}

function scatterConfig(c: any, m: Margin) {
  const q = c.q;
  const lo = q.axis[0];
  const hi = q.axis[q.axis.length - 1];
  const series = q.years.map((yr: string, k: number) => ({
    type: 'scatter', label: yr,
    data: q.ref.map((xv: number, j: number) => ({ x: xv, y: q.vals[k][j] })),
    pointRadius: 3.1, pointBorderWidth: 1.1, pointBorderColor: SERIES_COLORS[k],
    pointBackgroundColor: 'rgba(0,0,0,0)', showLine: false, order: k,
  }));
  const diag = {
    type: 'line', label: 'ref',
    data: [{ x: lo, y: lo }, { x: hi, y: hi }],
    borderColor: '#333', borderWidth: 1, pointRadius: 0, showLine: true, fill: false, order: 10,
  };
  const axisOpts = (isX: boolean) => ({
    type: 'linear', min: lo, max: hi,
    afterBuildTicks: (s: any) => { s.ticks = q.axis.map((v: number) => ({ value: v })); },
    afterFit: (s: any) => {
      if (isX) { s.height = m.b; s.paddingLeft = 0; s.paddingRight = 0; }
      else { s.width = m.l; s.paddingTop = 0; s.paddingBottom = 0; }
    },
    ticks: { font: { size: 7, family: FF }, color: '#666', padding: 1, maxRotation: 0, autoSkip: false },
    grid: { display: true, drawOnChartArea: false, tickLength: 3, color: '#666' },
    border: { display: true, color: '#444', width: 1 },
  });
  return {
    type: 'scatter',
    data: { datasets: [...series, diag] },
    options: {
      responsive: false, animation: false, devicePixelRatio: 1, events: [],
      layout: { padding: { top: m.t, right: m.r, bottom: 0, left: 0 } },
      plugins: { legend: { display: false }, tooltip: { enabled: false } },
      scales: { x: axisOpts(true), y: axisOpts(false) },
    },
    plugins: [scatterDeco(q, c.name)],
  };
}

/* ---------------- React components ---------------- */
function ChartCanvas({ left, top, w, h, build }: { left: number; top: number; w: number; h: number; build: () => any }) {
  const ref = useRef<HTMLCanvasElement>(null);
  useEffect(() => {
    const chart = new Chart(ref.current as HTMLCanvasElement, build());
    return () => chart.destroy();
  }, []);
  return (
    <canvas
      ref={ref}
      width={w}
      height={h}
      style={{ position: 'absolute', left, top, width: w, height: h, display: 'block' }}
    />
  );
}

function DensityPanel({ c, i }: { c: any; i: number }) {
  const L = c.layout;
  const n = c.years.length;
  const isBottom = i === n - 1;
  const top = L.bounds[i];
  const bottom = L.bounds[i + 1];
  const canvasLeft = Math.round(L.percentX - (9.5 * 1.2) / 2);
  const canvasRight = Math.round(L.yearX + (10.5 * 1.2) / 2);
  const bmiTitle = L.bmiY != null;
  const mb = isBottom ? (bmiTitle ? Math.round(L.bmiY + (9 * 1.2) / 2) - bottom : 16) : 5;
  const m = { l: L.plotL - canvasLeft, t: 6, r: canvasRight - L.plotR, b: mb };
  const w = canvasRight - canvasLeft;
  const h = bottom - top + m.t + m.b;
  return <ChartCanvas left={canvasLeft} top={top - m.t} w={w} h={h} build={() => densityConfig(c, i, m, bmiTitle)} />;
}

function QQPanel({ c }: { c: any }) {
  const [l, t, r, b] = c.layout.scatter;
  const m = { l: 24, t: 6, r: 8, b: 16 };
  const w = r - l + m.l + m.r;
  const h = b - t + m.t + m.b;
  return <ChartCanvas left={l - m.l} top={t - m.t} w={w} h={h} build={() => scatterConfig(c, m)} />;
}

export default function App() {
  return (
    <div style={{ position: 'absolute', left: 0, top: 0, width: 764, height: 1893, background: '#fff', overflow: 'hidden' }}>
      {COUNTRIES.map((c, ci) => {
        const L = c.layout;
        return (
          <React.Fragment key={ci}>
            <div style={{ position: 'absolute', left: L.bg[0], top: L.bg[1], width: L.bg[2] - L.bg[0], height: L.bg[3] - L.bg[1], background: '#f7f7f7' }} />
            <div style={{ position: 'absolute', left: L.plotL, top: L.bounds[0], width: L.plotR - L.plotL, height: L.bounds[L.bounds.length - 1] - L.bounds[0], background: '#fff' }} />
            {c.years.map((yr: string, i: number) => (
              <DensityPanel key={yr + '-' + i} c={c} i={i} />
            ))}
            <QQPanel c={c} />
          </React.Fragment>
        );
      })}
      <svg width={764} height={1893} style={{ position: 'absolute', left: 0, top: 0, pointerEvents: 'none' }}>
        <defs>
          <filter id="ruleShadow" x="-5%" y="-200%" width="110%" height="500%">
            <feGaussianBlur stdDeviation="1.6" />
          </filter>
        </defs>
        {RULES.map((r, i) => (
          <g key={i}>
            <line x1={r[0] + 2} y1={r[1] + 3} x2={r[2] + 2} y2={r[3] + 3} stroke="#999" strokeWidth={4} filter="url(#ruleShadow)" />
            <line x1={r[0]} y1={r[1]} x2={r[2]} y2={r[3]} stroke="#000" strokeWidth={4} />
          </g>
        ))}
      </svg>
    </div>
  );
}
